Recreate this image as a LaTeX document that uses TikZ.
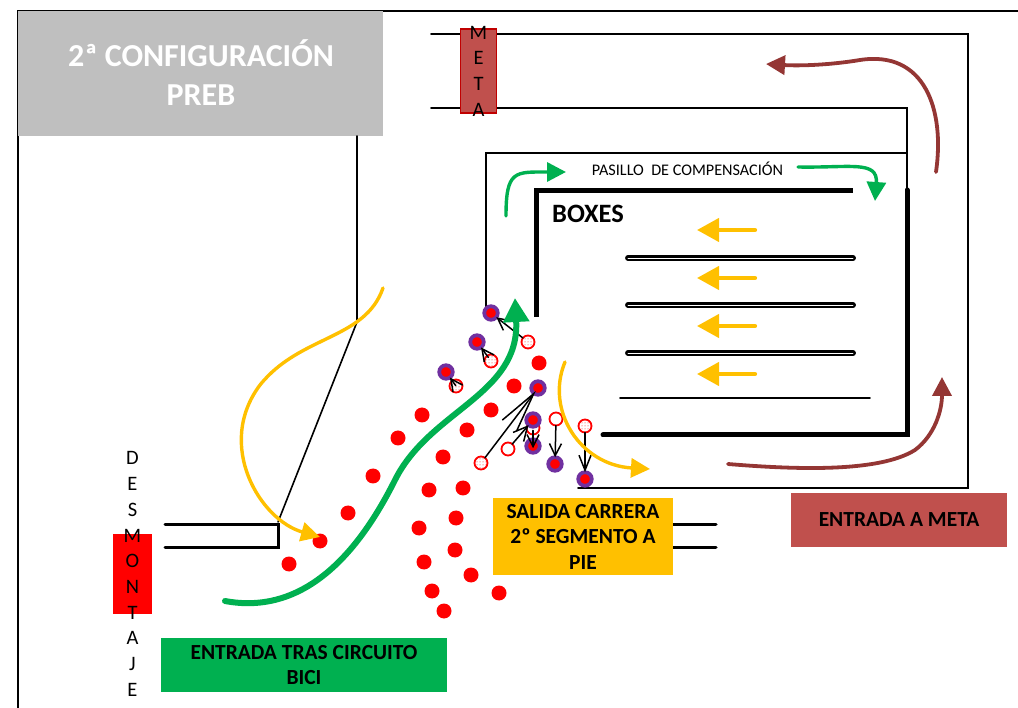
\documentclass[tikz,border=0pt]{standalone}
\usepackage{fontspec}
\setmainfont{Carlito}
\usetikzlibrary{arrows.meta,patterns}

\definecolor{boxgrey}{HTML}{BFBFBF}
\definecolor{metared}{HTML}{C0504D}
\definecolor{metaline}{HTML}{C00000}
\definecolor{flowgreen}{HTML}{00B050}
\definecolor{flowyellow}{HTML}{FFC000}
\definecolor{flowbrown}{HTML}{943634}
\definecolor{turnpurple}{HTML}{7030A0}

\begin{document}
\begin{tikzpicture}[x=1pt,y=-1pt,line cap=round]
		\tikzstyle{every node}=[inner sep=0pt,outer sep=0pt]
		\tikzstyle{wall}=[draw=black,line width=1.6pt]
		\tikzstyle{thickwall}=[draw=black,line width=5pt]
		\tikzstyle{entry}=[draw=black,line width=3pt]
		\tikzstyle{rack}=[draw=black,line width=2.6pt,double=white,double distance=0.7pt]
		\tikzstyle{reddot}=[circle,fill=red,minimum size=15pt]
		\tikzstyle{turndot}=[circle,fill=red,draw=turnpurple,line width=3.8pt,minimum size=13.5pt]
		\tikzstyle{hollowdot}=[circle,fill=white,draw=red,line width=1.8pt,minimum size=13pt]
		\tikzstyle{specdot}=[hollowdot,postaction={pattern=dots,pattern color=red}]
		\tikzstyle{walk}=[draw=black,line width=1.5pt,-{Straight Barb[length=12pt,width=12pt,line width=1.5pt]}]
		\tikzstyle{bigflow}=[draw=flowgreen,line width=6pt,-{Triangle[length=24pt,width=25pt]}]
		\tikzstyle{greenflow}=[draw=flowgreen,line width=3.4pt,-{Triangle[length=19pt,width=19pt]}]
		\tikzstyle{yellowflow}=[draw=flowyellow,line width=3.4pt,-{Triangle[length=19pt,width=19pt]}]
		\tikzstyle{laneflow}=[draw=flowyellow,line width=4.2pt,-{Triangle[length=22pt,width=23pt]}]
		\tikzstyle{brownflow}=[draw=flowbrown,line width=3.8pt,-{Triangle[length=19pt,width=19pt]}]
		\tikzstyle{lettering}=[align=center,font=\fontsize{20.5}{25.7}\selectfont]
		\tikzstyle{caption}=[align=center,font=\fontsize{21.5}{25.5}\selectfont\bfseries]

		\useasboundingbox (0,0) rectangle (1018,708);

		% outer limit and transition
		\draw[wall] (18,708) -- (18,11) -- (1018,11);
		\node[fill=boxgrey,minimum width=365pt,minimum height=125pt,anchor=north west] (Title) at (18,11) {};
		\node[align=center,text=white,font=\fontsize{32}{39}\selectfont\bfseries] (TitleText) at (201,73) {2ª CONFIGURACIÓN\\PREB};
		\draw[wall] (357,136) -- (357,322) -- (278,522);
		\draw[entry] (165,524) -- (278,524) -- (278,547) -- (165,547);
		\draw[entry] (660,524) -- (716,524);
		\draw[entry] (660,547) -- (716,547);

		% finish corridor
		\draw[wall] (431,34) -- (968,34) -- (968,488) -- (578,488);
		\draw[wall] (431,108) -- (907,108) -- (907,153) -- (486,153) -- (486,308);
		\draw[wall] (907,153) -- (907,190);
		\draw[thickwall,line cap=butt] (536,317) -- (536,191) -- (853,191);
		\draw[thickwall] (907,190) -- (907,435) -- (603,435);

		% racks
		\draw[rack] (628,258) -- (853,258);
		\draw[rack] (628,305) -- (853,305);
		\draw[rack] (628,353) -- (853,353);
		\draw[wall] (620,398) -- (870,398);

		% coloured boxes
		\node[fill=metared,draw=metaline,line width=1.6pt,minimum width=36pt,minimum height=84pt] (MetaBox) at (478.5,71) {};
		\node[lettering] (MetaText) at (478.5,71) {M\\E\\T\\A};
		\node[fill=red,minimum width=39pt,minimum height=80pt] (DesBox) at (132.5,574) {};
		\node[lettering] (DesText) at (132.5,574) {D\\E\\S\\M\\O\\N\\T\\A\\J\\E};
		\node[fill=flowgreen,minimum width=286pt,minimum height=54pt,caption] (GreenBox) at (304,665) {ENTRADA TRAS CIRCUITO\\BICI};
		\node[fill=flowyellow,minimum width=180pt,minimum height=77pt,caption] (YellowBox) at (583,536.5) {SALIDA CARRERA\\2º SEGMENTO A\\PIE};
		\node[fill=metared,minimum width=216pt,minimum height=54pt,caption] (BrownBox) at (899,520) {ENTRADA A META};
		\node[font=\fontsize{26.5}{30}\selectfont\bfseries] (Boxes) at (588,214) {BOXES};
		\node[font=\fontsize{16.2}{19}\selectfont] (Pasillo) at (687.5,169) {PASILLO\ \ DE COMPENSACIÓN};

		% runners waiting
		\node[reddot] (R1) at (539,363) {};
		\node[reddot] (R2) at (514,386) {};
		\node[reddot] (R3) at (491,410) {};
		\node[reddot] (R4) at (467,430) {};
		\node[reddot] (R5) at (443,457) {};
		\node[reddot] (R6) at (422,415) {};
		\node[reddot] (R7) at (398,438) {};
		\node[reddot] (R8) at (373,476) {};
		\node[reddot] (R9) at (348,513) {};
		\node[reddot] (R10) at (320,541) {};
		\node[reddot] (R11) at (289,564) {};
		\node[reddot] (R12) at (429,490) {};
		\node[reddot] (R13) at (463,488) {};
		\node[reddot] (R14) at (456,518) {};
		\node[reddot] (R15) at (419,528) {};
		\node[reddot] (R16) at (455,550) {};
		\node[reddot] (R17) at (424,562) {};
		\node[reddot] (R18) at (471,575) {};
		\node[reddot] (R19) at (432,591) {};
		\node[reddot] (R20) at (499,593) {};
		\node[reddot] (R21) at (444,611) {};

		% runners leaving
		\node[specdot] (H1) at (528,342) {};
		\node[specdot] (H2) at (491,361) {};
		\node[specdot] (H3) at (456,386) {};
		\node[specdot] (H4) at (481,463) {};
		\node[hollowdot] (H5) at (508,449) {};
		\node[hollowdot] (H6) at (533,428) {};
		\node[hollowdot] (H7) at (556,419) {};
		\node[specdot] (H8) at (585,426) {};

		\node[turndot] (P1) at (491,313) {};
		\node[turndot] (P2) at (477,342) {};
		\node[turndot] (P3) at (446,372) {};
		\node[turndot] (P4) at (538,388) {};
		\node[turndot] (P5) at (533,420) {};
		\node[turndot] (P6) at (533,446) {};
		\node[turndot] (P7) at (555,464) {};
		\node[turndot] (P8) at (585,479) {};

		\path (H1) edge[walk] (P1);
		\path (H2) edge[walk,shorten <=-2pt] (P2);
		\path (H3) edge[walk,shorten <=-6pt] (P3);
		\path (H4) edge[walk,shorten >=-3pt,-{Straight Barb[length=40pt,width=18pt,line width=1.5pt]}] (P4);
		\path (H5) edge[walk,-{Straight Barb[length=14pt,width=14pt,line width=1.5pt]}] (P5);
		\path (H6) edge[walk,shorten <=-4pt,shorten >=-9pt] (P6);
		\path (H7) edge[walk] (P7);
		\path (H8) edge[walk,-{Straight Barb[length=15pt,width=12pt,line width=1.5pt]}] (P8);

		% flows
		\draw[bigflow] (225,601) .. controls (300,615) and (355,560) .. (395,480) .. controls (430,410) and (520,395) .. (515,298);
		\draw[yellowflow] (383,288) .. controls (365,340) and (300,335) .. (260,385) .. controls (215,445) and (260,520) .. (320,537);
		\draw[yellowflow] (565,362) .. controls (545,410) and (580,465) .. (650,469);
		\draw[greenflow] (506,216) .. controls (506,170) and (515,172) .. (566,172);
		\draw[greenflow] (798,167) .. controls (850,168) and (878,160) .. (875,201);
		\draw[brownflow] (936,172) .. controls (945,110) and (925,50) .. (860,60) .. controls (830,65) and (800,66) .. (766,64);
		\draw[brownflow] (728,464) .. controls (800,470) and (880,472) .. (915,450) .. controls (935,435) and (942,410) .. (942,377);
		\draw[laneflow] (755,230) -- (697,230);
		\draw[laneflow] (755,278) -- (697,278);
		\draw[laneflow] (755,326) -- (697,326);
		\draw[laneflow] (755,374) -- (697,374);
	\end{tikzpicture}
\end{document}
